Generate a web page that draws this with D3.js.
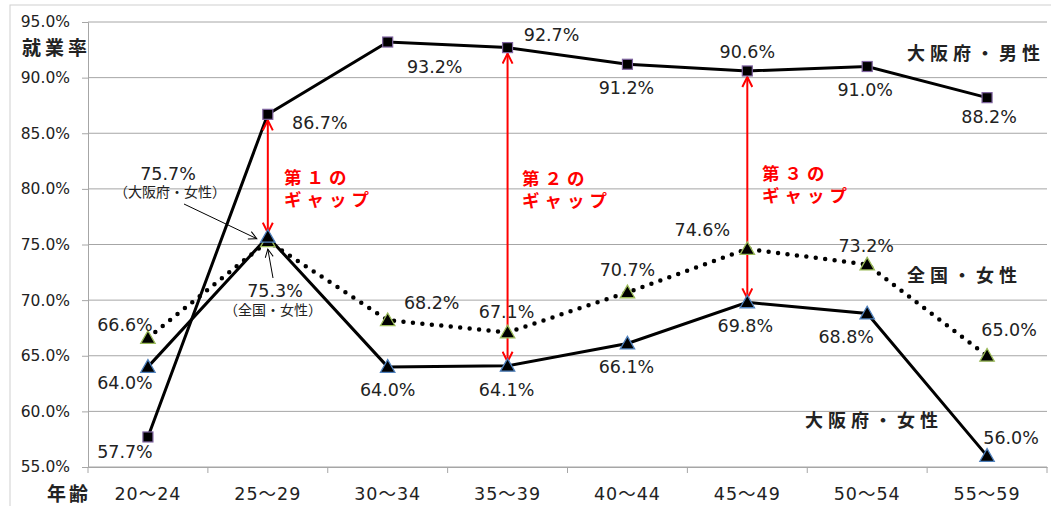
<!DOCTYPE html>
<html>
<head>
<meta charset="utf-8">
<script src="https://cdn.jsdelivr.net/npm/d3@7"></script>
<style>
  body { margin: 0; background: #fff; }
  svg text { font-family: "DejaVu Sans", "Noto Sans CJK JP", sans-serif; fill: #222; }
  .jp { font-family: "Noto Sans CJK JP", sans-serif; font-weight: bold; }
</style>
</head>
<body>
<svg id="chart" width="1051" height="506"></svg>
<script>
// categories and values
var ages = ["20～24", "25～29", "30～34", "35～39", "40～44", "45～49", "50～54", "55～59"];
var osakaMale = [57.7, 86.7, 93.2, 92.7, 91.2, 90.6, 91.0, 88.2];
var japanFemale = [66.6, 75.3, 68.2, 67.1, 70.7, 74.6, 73.2, 65.0];
var osakaFemale = [64.0, 75.7, 64.0, 64.1, 66.1, 69.8, 68.8, 56.0];
var yTicks = [55, 60, 65, 70, 75, 80, 85, 90, 95];
// gaps: category index, from male to osaka female
var gaps = [1, 3, 5];

// label offsets (dx, dy from point), null = drawn separately
var maleLbl = [[-23, 21], [52, 15], [47, 31], [44, -7], [-1, 30], [0, -13], [-2, 29], [2, 25]];
var jfLbl = [[-23, -7], null, [44, -11], [-1, -14], [0, -16], [-45, -13], [-1, -13], [22, -20]];
var ofLbl = [[-23, 22], null, [0, 29], [-1, 30], [-1, 29], [-2, 30], [-21, 30], [24, -12]];

(function() {
var svg = d3.select("#chart");
var pLeft = 88, pRight = 1047, pTop = 22, pBottom = 467;

var x = d3.scaleBand().domain(ages).range([pLeft, pRight]);
var y = d3.scaleLinear().domain([55, 95]).range([pBottom, pTop]);
var cx = function(i) { return x(ages[i]) + x.bandwidth() / 2; };

// outer frame
svg.append("rect").attr("x", 10).attr("y", 5).attr("width", 1060).attr("height", 520)
    .attr("fill", "none").attr("stroke", "#d0d0d0");

// gridlines
svg.append("g").selectAll("line").data(yTicks).enter().append("line")
    .attr("x1", pLeft).attr("x2", pRight)
    .attr("y1", function(d) { return y(d); }).attr("y2", function(d) { return y(d); })
    .attr("stroke", "#a6a6a6").attr("stroke-width", 1);

// y axis
var yAxis = svg.append("g").attr("transform", "translate(" + pLeft + ",0)")
    .call(d3.axisLeft(y).tickValues(yTicks).tickSize(6).tickFormat(function(d) { return d.toFixed(1) + "%"; }));
yAxis.select(".domain").attr("stroke", "#a6a6a6");
yAxis.selectAll(".tick line").attr("stroke", "#a6a6a6");
yAxis.selectAll("text").attr("x", -18).attr("font-size", 15.5).style("fill", "#222");

// x axis
var xAxis = svg.append("g").attr("transform", "translate(0," + pBottom + ")")
    .call(d3.axisBottom(x).tickSize(0).tickPadding(0));
xAxis.select(".domain").attr("stroke", "#a6a6a6");
xAxis.selectAll("text").attr("dy", null).attr("y", 33).attr("font-size", 17.5)
    .attr("letter-spacing", 1).style("fill", "#222");
svg.append("g").selectAll("line").data(d3.range(ages.length + 1)).enter().append("line")
    .attr("x1", function(i) { return pLeft + i * x.bandwidth(); })
    .attr("x2", function(i) { return pLeft + i * x.bandwidth(); })
    .attr("y1", pBottom).attr("y2", pBottom + 6)
    .attr("stroke", "#a6a6a6");

// axis titles
svg.append("text").attr("class", "jp").attr("x", 22).attr("y", 55)
    .attr("font-size", 19).attr("letter-spacing", 4).text("就業率");
svg.append("text").attr("class", "jp").attr("x", 47).attr("y", 501)
    .attr("font-size", 19).attr("letter-spacing", 3).text("年齢");

var line = d3.line().x(function(d, i) { return cx(i); }).y(function(d) { return y(d); });

svg.append("path").datum(japanFemale).attr("d", line)
    .attr("fill", "none").attr("stroke", "#000").attr("stroke-width", 4.5)
    .attr("stroke-linecap", "round").attr("stroke-dasharray", "0 9.5");
svg.append("path").datum(osakaFemale).attr("d", line)
    .attr("fill", "none").attr("stroke", "#000").attr("stroke-width", 3);
svg.append("path").datum(osakaMale).attr("d", line)
    .attr("fill", "none").attr("stroke", "#000").attr("stroke-width", 3);

// gap arrows
var defs = svg.append("defs");
defs.append("marker").attr("id", "head").attr("viewBox", "0 0 12 12")
    .attr("refX", 11).attr("refY", 6).attr("markerWidth", 12).attr("markerHeight", 12)
    .attr("markerUnits", "userSpaceOnUse").attr("orient", "auto-start-reverse")
    .append("path").attr("d", "M1,1 L11,6 L1,11").attr("fill", "none")
    .attr("stroke", "#ff0000").attr("stroke-width", 2);

svg.append("g").selectAll("line").data(gaps).enter().append("line")
    .attr("x1", function(i) { return cx(i); }).attr("x2", function(i) { return cx(i); })
    .attr("y1", function(i) { return y(osakaMale[i]) + 6; })
    .attr("y2", function(i) { return y(osakaFemale[i]) - 4; })
    .attr("stroke", "#ff0000").attr("stroke-width", 2)
    .attr("marker-start", "url(#head)").attr("marker-end", "url(#head)");

var gapText = [["第１の", 284, 184], ["第２の", 522, 185], ["第３の", 762, 180]];
gapText.forEach(function(g) {
    svg.append("text").attr("class", "jp").attr("font-size", 17.5)
        .attr("letter-spacing", 5).style("fill", "#ff0000")
        .attr("x", g[1]).attr("y", g[2]).text(g[0]);
    svg.append("text").attr("class", "jp").attr("font-size", 17.5)
        .attr("letter-spacing", 5).style("fill", "#ff0000")
        .attr("x", g[1]).attr("y", g[2] + 22).text("ギャップ");
});

// markers
function tri(s) { return "M0," + (-s * 0.6) + " L" + (s * 0.6) + "," + (s * 0.45) + " L" + (-s * 0.6) + "," + (s * 0.45) + "Z"; }
svg.append("g").selectAll("path").data(japanFemale).enter().append("path")
    .attr("d", tri(12))
    .attr("transform", function(d, i) { return "translate(" + cx(i) + "," + y(d) + ")"; })
    .attr("fill", "#000").attr("stroke", "#9bbb59").attr("stroke-width", 1.3);
svg.append("g").selectAll("path").data(osakaFemale).enter().append("path")
    .attr("d", tri(12))
    .attr("transform", function(d, i) { return "translate(" + cx(i) + "," + y(d) + ")"; })
    .attr("fill", "#000").attr("stroke", "#4f81bd").attr("stroke-width", 1.3);
svg.append("g").selectAll("rect").data(osakaMale).enter().append("rect")
    .attr("x", function(d, i) { return cx(i) - 5; }).attr("y", function(d) { return y(d) - 5; })
    .attr("width", 10).attr("height", 10)
    .attr("fill", "#000").attr("stroke", "#7f64a0").attr("stroke-width", 1.2);

// data labels
function labelsIdx(vals, offs) {
    vals.forEach(function(v, i) {
        if (!offs[i]) return;
        svg.append("text").attr("x", cx(i) + offs[i][0]).attr("y", y(v) + offs[i][1])
            .attr("text-anchor", "middle").attr("font-size", 17.5)
            .text(v.toFixed(1) + "%");
    });
}
labelsIdx(osakaMale, maleLbl);
labelsIdx(japanFemale, jfLbl);
labelsIdx(osakaFemale, ofLbl);

// special callouts at 25-29
defs.append("marker").attr("id", "thin").attr("viewBox", "0 0 10 10")
    .attr("refX", 9).attr("refY", 5).attr("markerWidth", 10).attr("markerHeight", 10)
    .attr("markerUnits", "userSpaceOnUse").attr("orient", "auto")
    .append("path").attr("d", "M1,1 L9,5 L1,9").attr("fill", "none")
    .attr("stroke", "#000").attr("stroke-width", 1);

svg.append("text").attr("x", 168).attr("y", 180).attr("text-anchor", "middle")
    .attr("font-size", 17.5).text(osakaFemale[1].toFixed(1) + "%");
svg.append("text").attr("x", 170).attr("y", 197).attr("text-anchor", "middle")
    .attr("font-size", 14).style("font-family", "Noto Sans CJK JP").text("（大阪府・女性）");
svg.append("line").attr("x1", 184).attr("y1", 204).attr("x2", cx(1) - 11).attr("y2", y(osakaFemale[1]) + 2)
    .attr("stroke", "#000").attr("stroke-width", 1).attr("marker-end", "url(#thin)");

svg.append("text").attr("x", 275).attr("y", 297).attr("text-anchor", "middle")
    .attr("font-size", 17.5).text(japanFemale[1].toFixed(1) + "%");
svg.append("text").attr("x", 273).attr("y", 315).attr("text-anchor", "middle")
    .attr("font-size", 14).style("font-family", "Noto Sans CJK JP").text("（全国・女性）");
svg.append("line").attr("x1", 273).attr("y1", 278).attr("x2", cx(1)).attr("y2", y(japanFemale[1]) + 8)
    .attr("stroke", "#000").attr("stroke-width", 1).attr("marker-end", "url(#thin)");

// series names
var names = [["大阪府・男性", 907, 60], ["全国・女性", 907, 282], ["大阪府・女性", 805, 427]];
names.forEach(function(n) {
    svg.append("text").attr("class", "jp").attr("x", n[1]).attr("y", n[2])
        .attr("font-size", 18).attr("letter-spacing", 5).text(n[0]);
});
})();
</script>
</body>
</html>
